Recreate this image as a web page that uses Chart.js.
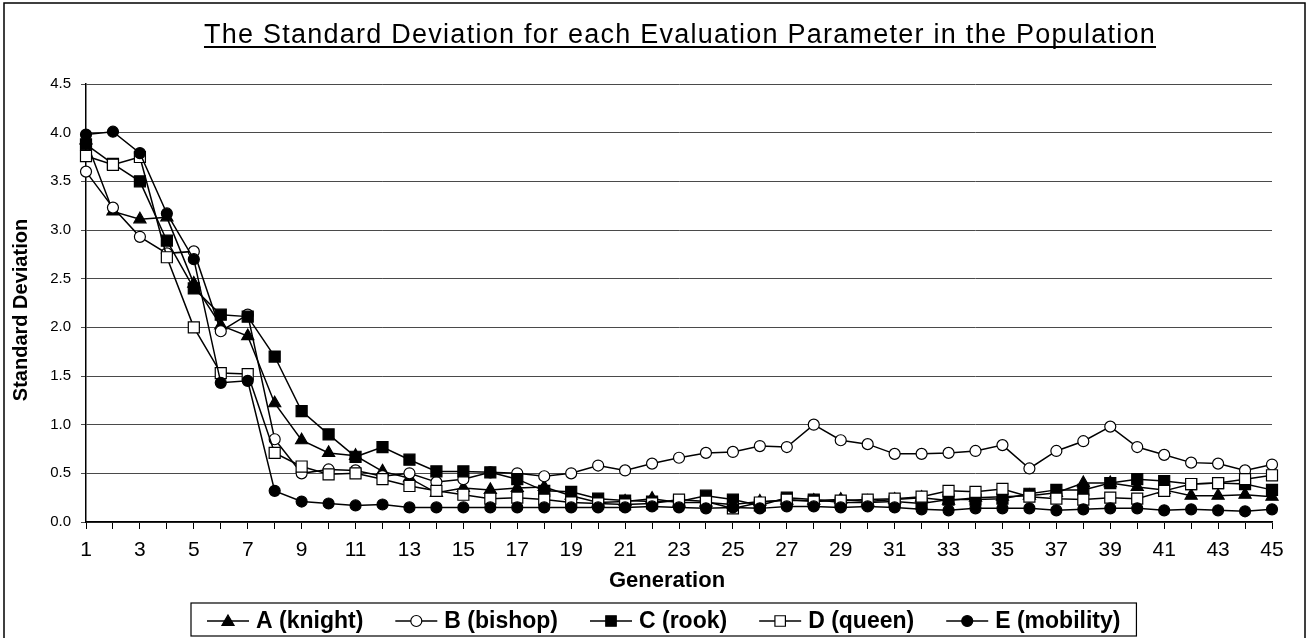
<!DOCTYPE html>
<html>
<head>
<meta charset="utf-8">
<script src="https://cdn.jsdelivr.net/npm/chart.js@4.4.1/dist/chart.umd.min.js"></script>
<style>
html,body{margin:0;padding:0;background:#fff;}
#wrap{width:1308px;height:638px;position:relative;overflow:hidden;}
canvas{display:block;}
</style>
</head>
<body>
<div id="wrap"><canvas id="c" width="1308" height="638"></canvas></div>
<script>
// ---- data ----
const generations = [1,2,3,4,5,6,7,8,9,10,11,12,13,14,15,16,17,18,19,20,21,22,23,24,25,26,27,28,29,30,31,32,33,34,35,36,37,38,39,40,41,42,43,44,45];
const seriesNames = ['A (knight)', 'B (bishop)', 'C (rook)', 'D (queen)', 'E (mobility)'];
const knight = [3.92,3.19,3.11,3.13,2.45,2.02,1.91,1.22,0.84,0.71, 0.68,0.52,0.45,0.30,0.35,0.33,0.35,0.36,0.27,0.20, 0.21,0.24,0.20,0.20,0.18,0.21,0.22,0.22,0.23,0.21, 0.23,0.25,0.22,0.25,0.26,0.27,0.30,0.40,0.40,0.36, 0.33,0.27,0.27,0.28,0.26];
const bishop = [3.60,3.23,2.93,2.76,2.78,1.96,2.13,0.85,0.50,0.54, 0.53,0.47,0.50,0.41,0.44,0.51,0.50,0.47,0.50,0.58, 0.53,0.60,0.66,0.71,0.72,0.78,0.77,1.00,0.84,0.80, 0.70,0.70,0.71,0.73,0.79,0.55,0.73,0.83,0.98,0.77, 0.69,0.61,0.60,0.53,0.59];
const rook = [3.88,3.68,3.50,2.89,2.40,2.13,2.11,1.70,1.14,0.90, 0.67,0.77,0.64,0.52,0.52,0.51,0.44,0.32,0.31,0.24, 0.22,0.21,0.21,0.27,0.23,0.17,0.25,0.23,0.20,0.20, 0.21,0.19,0.23,0.23,0.24,0.29,0.33,0.33,0.40,0.44, 0.42,0.39,0.40,0.39,0.33];
const queen = [3.76,3.67,3.75,2.72,2.00,1.53,1.52,0.71,0.57,0.49, 0.50,0.44,0.37,0.32,0.28,0.24,0.25,0.23,0.20,0.19, 0.18,0.19,0.23,0.21,0.14,0.20,0.23,0.21,0.22,0.23, 0.24,0.26,0.32,0.31,0.34,0.26,0.24,0.23,0.25,0.24, 0.32,0.39,0.40,0.44,0.48];
const mobility = [3.98,4.01,3.79,3.17,2.70,1.43,1.45,0.32,0.21,0.19, 0.17,0.18,0.15,0.15,0.15,0.15,0.15,0.15,0.15,0.15, 0.15,0.16,0.15,0.14,0.15,0.14,0.16,0.16,0.15,0.16, 0.15,0.13,0.12,0.14,0.14,0.14,0.12,0.13,0.14,0.14, 0.12,0.13,0.12,0.11,0.13];
const yTicks = [0.0,0.5,1.0,1.5,2.0,2.5,3.0,3.5,4.0,4.5];
const chartTitle = 'The Standard Deviation for each Evaluation Parameter in the Population';
const xTitle = 'Generation';
const yTitle = 'Standard Deviation';

// ---- styles ----
const FONT = '"Liberation Sans", Arial, Helvetica, sans-serif';
const markers = [
  {style:'triangle', radius:7,   fill:'#000'},
  {style:'circle',   radius:5.5, fill:'#fff'},
  {style:'rect',     radius:7.8, fill:'#000'},
  {style:'rect',     radius:7.8, fill:'#fff'},
  {style:'circle',   radius:5.5, fill:'#000'}
];
const seriesData = [knight, bishop, rook, queen, mobility];

const datasets = seriesData.map((d, i) => ({
  label: seriesNames[i],
  data: d,
  borderColor: '#000',
  borderWidth: 1.5,
  backgroundColor: markers[i].fill,
  pointStyle: markers[i].style,
  pointRadius: markers[i].radius,
  pointHoverRadius: markers[i].radius,
  pointBackgroundColor: markers[i].fill,
  pointBorderColor: '#000',
  pointBorderWidth: 1.2,
  tension: 0,
  fill: false,
  order: 5 - i
}));

function drawMarker(ctx, style, cx, cy, r, fill) {
  ctx.save();
  ctx.fillStyle = fill; ctx.strokeStyle = '#000'; ctx.lineWidth = 1.2;
  ctx.beginPath();
  if (style === 'triangle') {
    ctx.moveTo(cx, cy - r);
    ctx.lineTo(cx + r * 0.866, cy + r * 0.5);
    ctx.lineTo(cx - r * 0.866, cy + r * 0.5);
    ctx.closePath();
  } else if (style === 'circle') {
    ctx.arc(cx, cy, r, 0, Math.PI * 2);
  } else {
    const s = r * Math.SQRT1_2;
    ctx.rect(cx - s, cy - s, 2 * s, 2 * s);
  }
  ctx.fill(); ctx.stroke();
  ctx.restore();
}

const decor = {
  id: 'decor',
  afterDraw(chart) {
    const ctx = chart.ctx;
    ctx.save();
    // outer frame
    ctx.strokeStyle = '#000'; ctx.lineWidth = 1.5;
    ctx.strokeRect(4, 3, 1301, 640);

    // title with underline
    ctx.fillStyle = '#000';
    ctx.font = '27px ' + FONT;
    ctx.textAlign = 'left'; ctx.textBaseline = 'alphabetic';
    if ('letterSpacing' in ctx) ctx.letterSpacing = '1.25px';
    const tw = ctx.measureText(chartTitle).width;
    const tx = 680 - tw / 2;
    ctx.fillText(chartTitle, tx, 43);
    if ('letterSpacing' in ctx) ctx.letterSpacing = '0px';
    ctx.lineWidth = 2;
    ctx.beginPath(); ctx.moveTo(tx, 47); ctx.lineTo(tx + tw, 47); ctx.stroke();

    // y axis title
    ctx.save();
    ctx.translate(21, 310);
    ctx.rotate(-Math.PI / 2);
    ctx.font = 'bold 20px ' + FONT;
    ctx.textAlign = 'center'; ctx.textBaseline = 'middle';
    ctx.fillText(yTitle, 0, 0);
    ctx.restore();

    // x axis title
    ctx.font = 'bold 22px ' + FONT;
    ctx.textAlign = 'center'; ctx.textBaseline = 'alphabetic';
    ctx.fillText(xTitle, 667, 587);

    // legend
    ctx.font = 'bold 23px ' + FONT;
    ctx.textAlign = 'left';
    let x = 207;
    const ly = 621;
    let lastEnd = x;
    seriesNames.forEach((name, i) => {
      ctx.strokeStyle = '#000'; ctx.lineWidth = 1.5;
      ctx.beginPath(); ctx.moveTo(x, ly); ctx.lineTo(x + 42, ly); ctx.stroke();
      const m = markers[i];
      drawMarker(ctx, m.style, x + 21, m.style === 'triangle' ? ly + 1 : ly, m.radius * (m.style === 'rect' ? 0.95 : 1), m.fill);
      ctx.fillStyle = '#000';
      ctx.fillText(name, x + 49, 628);
      const w = ctx.measureText(name).width;
      lastEnd = x + 49 + w;
      x = lastEnd + 32;
    });
    ctx.strokeStyle = '#000'; ctx.lineWidth = 1.2;
    ctx.strokeRect(191, 603, lastEnd + 16 - 191, 33);
    ctx.restore();
  }
};

new Chart(document.getElementById('c'), {
  type: 'line',
  data: { labels: generations, datasets: datasets },
  plugins: [decor],
  options: {
    responsive: false,
    animation: false,
    devicePixelRatio: 1,
    layout: { padding: { left: 0, right: 36, top: 84, bottom: 56 } },
    plugins: { legend: { display: false }, title: { display: false }, tooltip: { enabled: false } },
    scales: {
      x: {
        type: 'category',
        offset: false,
        grid: { drawOnChartArea: false, drawTicks: true, tickLength: 7, color: '#000', lineWidth: 1 },
        border: { display: true, color: '#000', width: 1.5 },
        ticks: {
          autoSkip: false, maxRotation: 0, minRotation: 0, padding: 9, color: '#000',
          font: { family: FONT, size: 21 },
          callback: function(v, i) { return i % 2 === 0 ? String(generations[i]) : ''; }
        },
        afterFit: s => { s.height = 60; }
      },
      y: {
        min: 0, max: 4.5,
        grid: { color: '#4a4a4a', lineWidth: 1, drawTicks: true, tickLength: 5 },
        border: { display: true, color: '#000', width: 1.5 },
        afterBuildTicks: s => { s.ticks = yTicks.map(v => ({ value: v })); },
        ticks: {
          padding: 10, color: '#000',
          font: { family: FONT, size: 15 },
          callback: v => Number(v).toFixed(1)
        },
        afterFit: s => { s.width = 86; }
      }
    }
  }
});
</script>
</body>
</html>
